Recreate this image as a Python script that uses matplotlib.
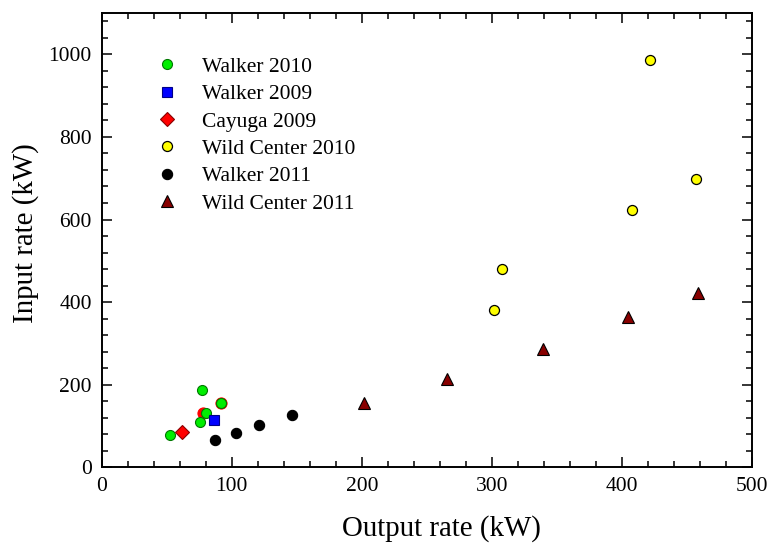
import matplotlib.pyplot as plt
from matplotlib.ticker import MultipleLocator

plt.rcParams['font.family'] = ['Liberation Serif', 'DejaVu Serif']

# data (kW)
walker2010_out = [52.5, 77.1, 75.6, 80.2, 91.5]
walker2010_in = [78, 186, 110, 132.6, 155]
red_ring_out = [78.1, 91.5]
red_ring_in = [131, 155]
walker2009_out = [86.3]
walker2009_in = [115]
cayuga2009_out = [61.7]
cayuga2009_in = [85]
wild2010_out = [421.7, 456.8, 407.6, 307.4, 301.5]
wild2010_in = [986.7, 698, 623.8, 480.7, 382]
walker2011_out = [87.2, 103.4, 121.1, 146]
walker2011_in = [66, 84, 102, 126]
wild2011_out = [201.6, 265.6, 339.5, 404.8, 458.6]
wild2011_in = [155, 214, 287, 363.6, 423]

fig = plt.figure(figsize=(7.7, 5.44), dpi=100)
ax = fig.add_axes([0.132, 0.141, 0.845, 0.835])

ax.plot(red_ring_out, red_ring_in, 'o', ms=8, mfc='red', mec='red', mew=0.8, zorder=2)
ax.plot(walker2010_out, walker2010_in, 'o', ms=7.2, mfc='#00ee00', mec='#007700', mew=0.8,
        label='Walker 2010', zorder=3)
ax.plot(walker2009_out, walker2009_in, 's', ms=7.4, mfc='blue', mec='#000088', mew=0.8,
        label='Walker 2009', zorder=3)
ax.plot(cayuga2009_out, cayuga2009_in, 'D', ms=7, mfc='red', mec='#880000', mew=0.8,
        label='Cayuga 2009', zorder=3)
ax.plot(wild2010_out, wild2010_in, 'o', ms=7.2, mfc='yellow', mec='black', mew=0.9,
        label='Wild Center 2010', zorder=3)
ax.plot(walker2011_out, walker2011_in, 'o', ms=7.4, mfc='black', mec='black', mew=0.8,
        label='Walker 2011', zorder=3)
ax.plot(wild2011_out, wild2011_in, '^', ms=8.6, mfc='#880000', mec='black', mew=0.8,
        label='Wild Center 2011', zorder=3)

ax.set_xlim(0, 500)
ax.set_ylim(0, 1100)
ax.xaxis.set_major_locator(MultipleLocator(100))
ax.xaxis.set_minor_locator(MultipleLocator(20))
ax.yaxis.set_major_locator(MultipleLocator(200))
ax.yaxis.set_minor_locator(MultipleLocator(40))
ax.tick_params(which='both', direction='in', top=True, right=True, width=1.1, labelsize=15.5)
ax.tick_params(which='major', length=7, pad=7)
ax.tick_params(which='minor', length=4)
for s in ax.spines.values():
    s.set_linewidth(1.4)

ax.set_xlabel('Output rate (kW)', fontsize=20.8)
ax.set_ylabel('Input rate (kW)', fontsize=20.8)
ax.xaxis.set_label_coords(0.522, -0.105)
ax.yaxis.set_label_coords(-0.096, 0.515)

ax.legend(loc='upper left', bbox_to_anchor=(0.061, 0.937), frameon=False, fontsize=15.5,
          handlelength=1.0, handletextpad=1.1, labelspacing=0.34, borderpad=0.2,
          numpoints=1, markerscale=1.0)

fig.savefig('out.png', dpi=100)
